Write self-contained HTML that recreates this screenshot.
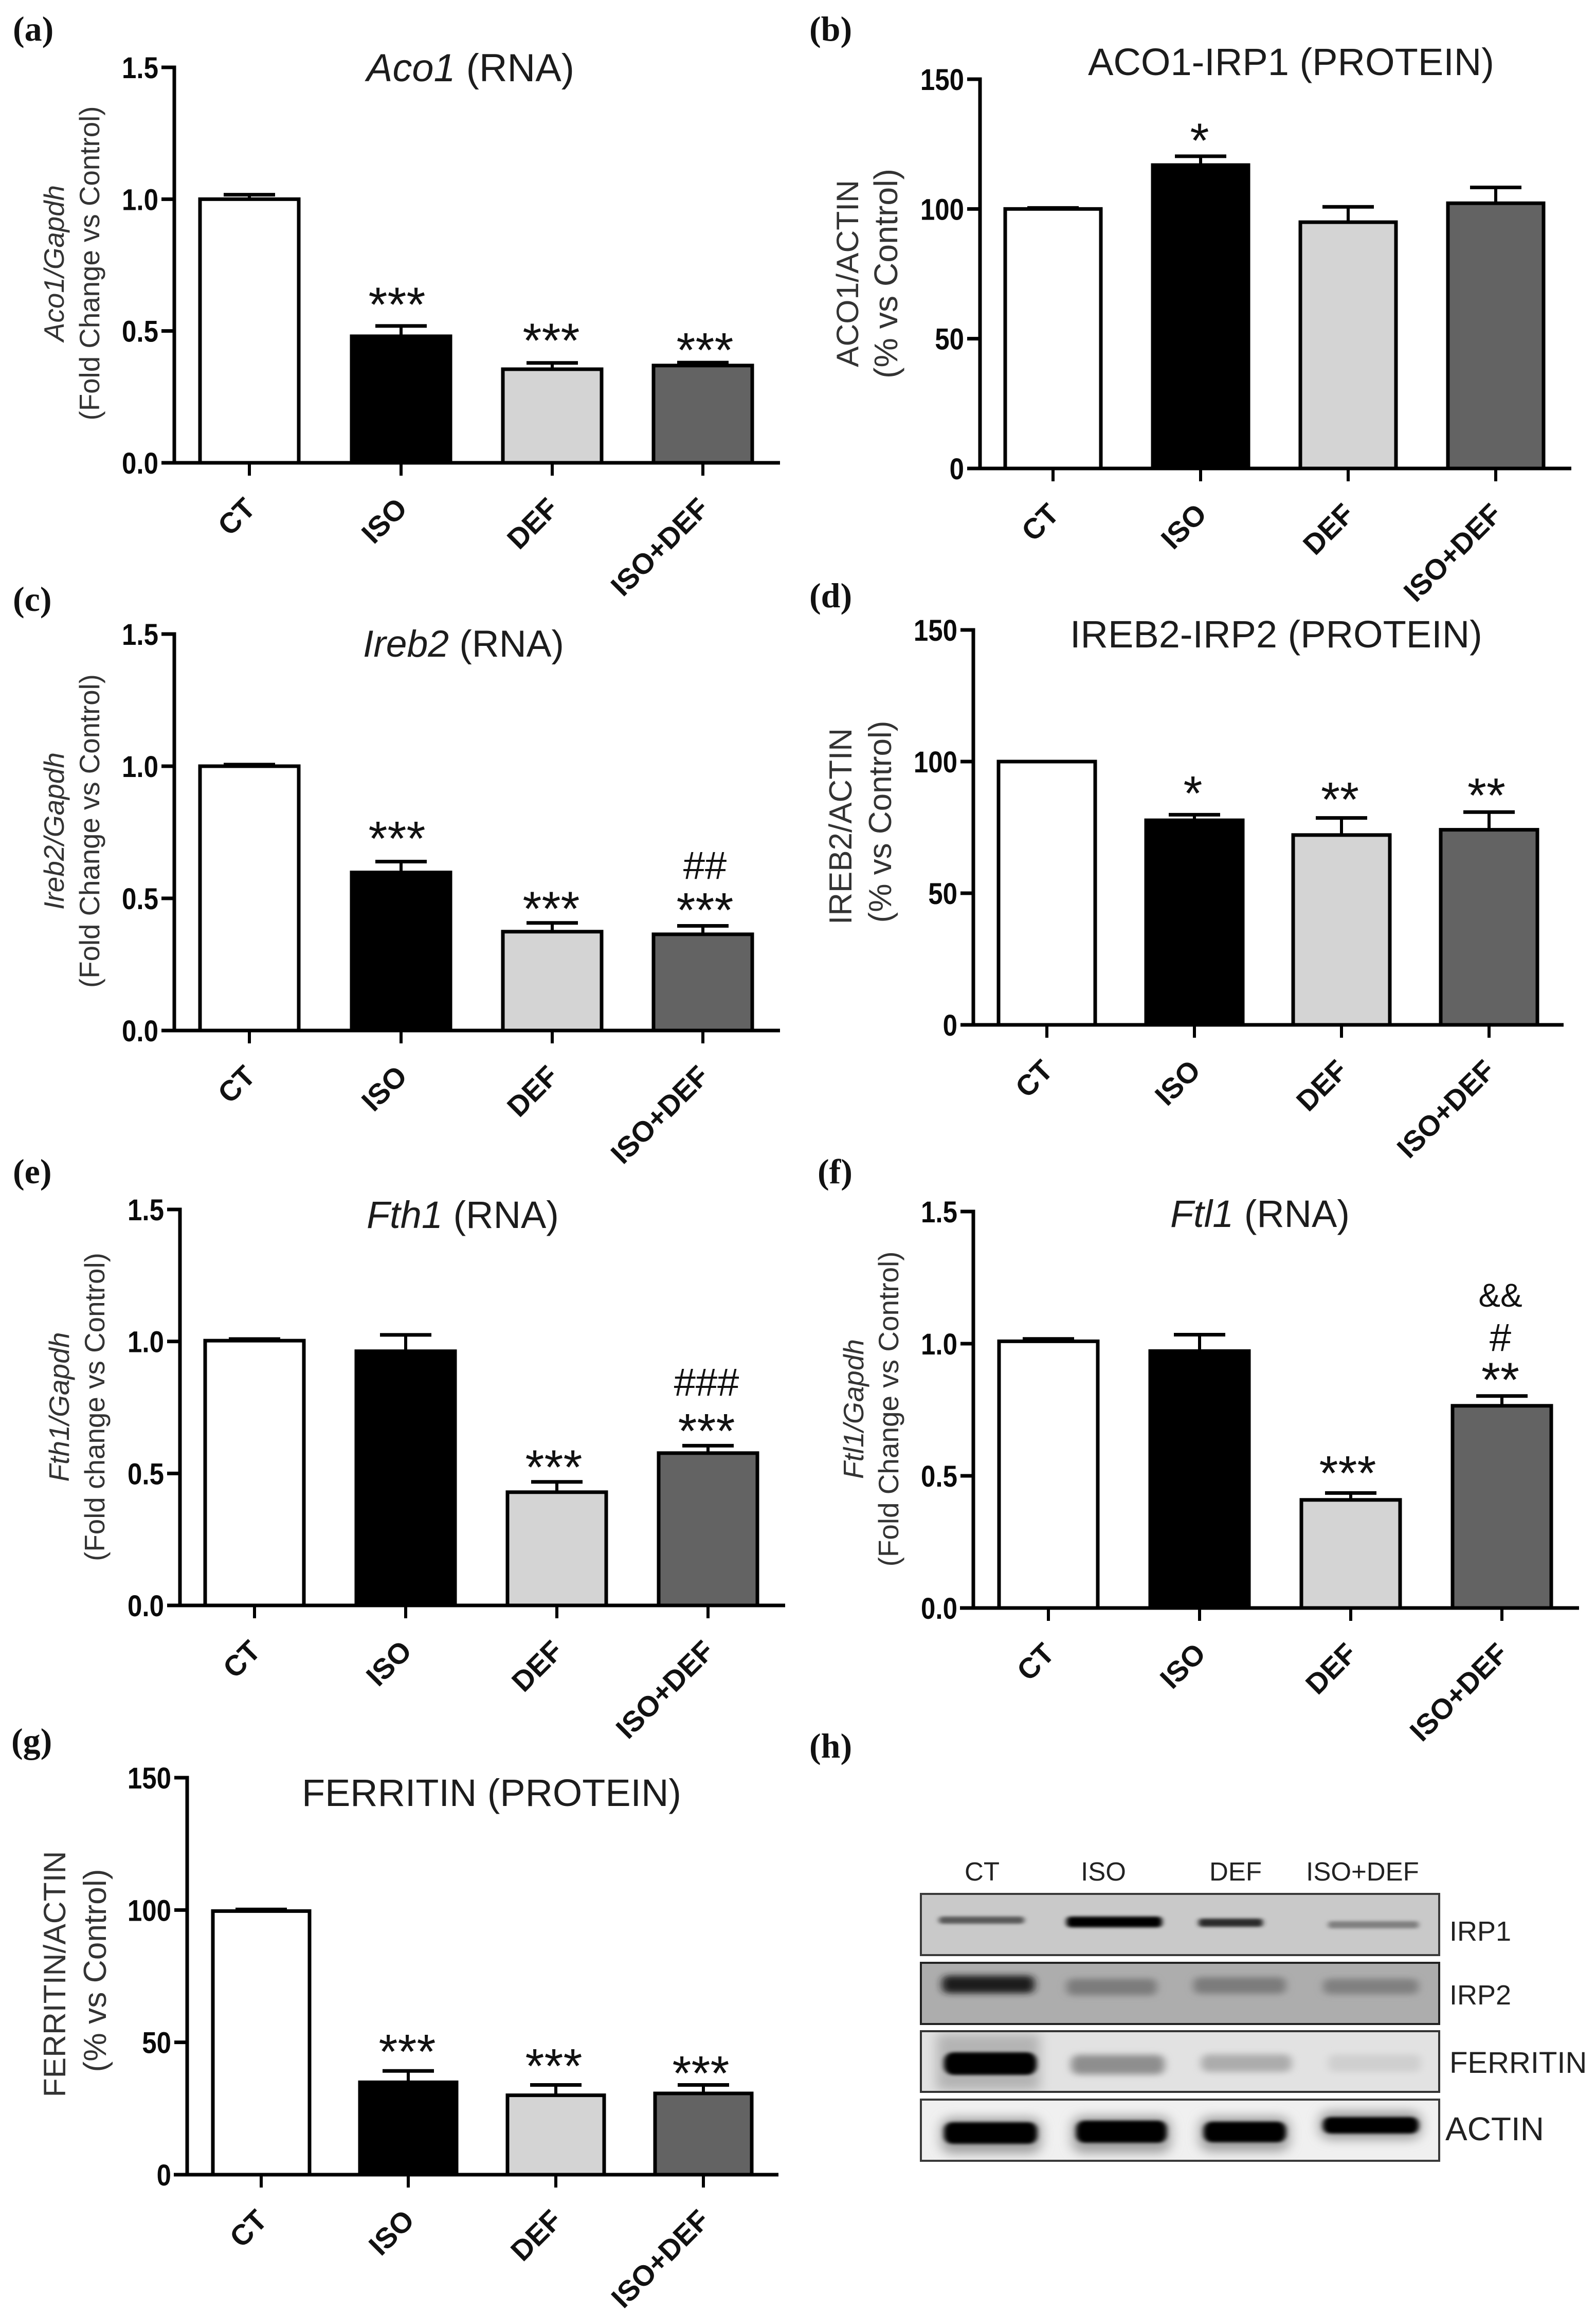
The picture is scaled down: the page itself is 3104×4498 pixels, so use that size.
<!DOCTYPE html>
<html lang="en">
<head>
<meta charset="utf-8">
<title>Iron metabolism bar charts and western blot</title>
<style>
html,body{margin:0;padding:0;background:#fff;}
svg{display:block;position:absolute;left:0;top:0;font-family:"Liberation Sans",Arial,sans-serif;}
text{white-space:pre;}
</style>
</head>
<body>
<svg id="figure" xmlns="http://www.w3.org/2000/svg" width="3104" height="4498" viewBox="0 0 3104 4498">
<defs>
<filter id="blur-s" x="-30%" y="-150%" width="160%" height="400%"><feGaussianBlur stdDeviation="5 3"/></filter>
<filter id="blur-m" x="-30%" y="-150%" width="160%" height="400%"><feGaussianBlur stdDeviation="8 6"/></filter>
<filter id="blur-l" x="-30%" y="-150%" width="160%" height="400%"><feGaussianBlur stdDeviation="12 10"/></filter>
<clipPath id="clip-row-1"><rect x="1791" y="3683" width="1008" height="119"/></clipPath>
<clipPath id="clip-row-2"><rect x="1791" y="3817" width="1008" height="119"/></clipPath>
<clipPath id="clip-row-3"><rect x="1791" y="3950" width="1008" height="118"/></clipPath>
<clipPath id="clip-row-4"><rect x="1791" y="4083" width="1008" height="119"/></clipPath>
</defs>
<rect x="0" y="0" width="3104" height="4498" fill="#ffffff"/>

<g id="western-blot">
  <text x="1574" y="3418" font-family="'Liberation Serif',serif" font-weight="bold" font-size="68" fill="#111">(h)</text>
  <g font-size="51" fill="#222" text-anchor="middle">
    <text x="1910" y="3657">CT</text>
    <text x="2146" y="3657">ISO</text>
    <text x="2403" y="3657">DEF</text>
    <text x="2650" y="3657">ISO+DEF</text>
  </g>

  <g>
    <rect x="1791" y="3683" width="1008" height="119" fill="#c9c9c9"/>
    <g clip-path="url(#clip-row-1)">
      <rect x="1826" y="3727" width="166" height="14" rx="6" fill="#5a5a5a" filter="url(#blur-s)"/>
      <rect x="2074" y="3727" width="186" height="21" rx="8" fill="#000" filter="url(#blur-s)"/>
      <rect x="2331" y="3731" width="125" height="16" rx="6" fill="#2a2a2a" filter="url(#blur-s)"/>
      <rect x="2583" y="3736" width="176" height="14" rx="5" fill="#808080" filter="url(#blur-s)"/>
    </g>
    <rect x="1791" y="3683" width="1008" height="119" fill="none" stroke="#3a3a3a" stroke-width="4"/>
  </g>

  <g>
    <rect x="1791" y="3817" width="1008" height="119" fill="#adadad"/>
    <g clip-path="url(#clip-row-2)">
      <rect x="1832" y="3842" width="180" height="34" rx="12" fill="#1c1c1c" filter="url(#blur-m)"/>
      <rect x="2074" y="3848" width="176" height="32" rx="12" fill="#7c7c7c" filter="url(#blur-m)"/>
      <rect x="2321" y="3845" width="180" height="32" rx="12" fill="#7c7c7c" filter="url(#blur-m)"/>
      <rect x="2573" y="3848" width="186" height="30" rx="12" fill="#808080" filter="url(#blur-m)"/>
    </g>
    <rect x="1791" y="3817" width="1008" height="119" fill="none" stroke="#222" stroke-width="4"/>
  </g>

  <g>
    <rect x="1791" y="3950" width="1008" height="118" fill="#e2e2e2"/>
    <g clip-path="url(#clip-row-3)">
      <rect x="1822" y="3955" width="200" height="110" fill="#b4b4b4" filter="url(#blur-l)"/>
      <rect x="1836" y="3991" width="180" height="44" rx="18" fill="#000" filter="url(#blur-s)"/>
      <rect x="2083" y="3996" width="182" height="38" rx="14" fill="#8e8e8e" filter="url(#blur-m)"/>
      <rect x="2336" y="3995" width="176" height="34" rx="13" fill="#acacac" filter="url(#blur-m)"/>
      <rect x="2583" y="3995" width="180" height="34" rx="12" fill="#cfcfcf" filter="url(#blur-m)"/>
    </g>
    <rect x="1791" y="3950" width="1008" height="118" fill="none" stroke="#333" stroke-width="4"/>
  </g>

  <g>
    <rect x="1791" y="4083" width="1008" height="119" fill="#f0f0f0"/>
    <g clip-path="url(#clip-row-4)">
      <rect x="1830" y="4118" width="195" height="70" rx="20" fill="#a0a0a0" filter="url(#blur-l)"/>
      <rect x="2085" y="4115" width="192" height="72" rx="20" fill="#a0a0a0" filter="url(#blur-l)"/>
      <rect x="2333" y="4116" width="175" height="68" rx="20" fill="#a0a0a0" filter="url(#blur-l)"/>
      <rect x="2566" y="4105" width="198" height="56" rx="20" fill="#a0a0a0" filter="url(#blur-l)"/>
      <rect x="1836" y="4127" width="181" height="42" rx="16" fill="#000" filter="url(#blur-s)"/>
      <rect x="2093" y="4124" width="176" height="43" rx="16" fill="#000" filter="url(#blur-s)"/>
      <rect x="2341" y="4126" width="160" height="40" rx="16" fill="#000" filter="url(#blur-s)"/>
      <rect x="2573" y="4117" width="186" height="32" rx="14" fill="#000" filter="url(#blur-s)"/>
    </g>
    <rect x="1791" y="4083" width="1008" height="119" fill="none" stroke="#3a3a3a" stroke-width="4"/>
  </g>

  <g fill="#222">
    <text x="2819" y="3774" font-size="54">IRP1</text>
    <text x="2819" y="3898" font-size="54">IRP2</text>
    <text x="2819" y="4031" font-size="58">FERRITIN</text>
    <text x="2811" y="4162" font-size="64">ACTIN</text>
  </g>
</g>
</svg>

<script>
// ---- Shared chart data ----
const categories = ['CT', 'ISO', 'DEF', 'ISO+DEF'];
const rnaTicks = ['0.0', '0.5', '1.0', '1.5'];
const proteinTicks = ['0', '50', '100', '150'];

// (a) Aco1 RNA
const aco1RnaMeans = [1.00, 0.48, 0.355, 0.369];
const aco1RnaErrors = [0.017, 0.039, 0.024, 0.011];
const aco1RnaSig = [[], ['***'], ['***'], ['***']];

// (b) ACO1-IRP1 protein
const aco1ProteinMeans = [100, 116.9, 94.9, 102.2];
const aco1ProteinErrors = [0.4, 3.4, 5.9, 6.1];
const aco1ProteinSig = [[], ['*'], [], []];

// (c) Ireb2 RNA
const ireb2RnaMeans = [1.00, 0.598, 0.374, 0.364];
const ireb2RnaErrors = [0.006, 0.041, 0.033, 0.032];
const ireb2RnaSig = [[], ['***'], ['***'], ['***', '##']];

// (d) IREB2-IRP2 protein
const ireb2ProteinMeans = [100, 77.7, 72.1, 74.1];
const ireb2ProteinErrors = [0, 2.1, 6.5, 6.7];
const ireb2ProteinSig = [[], ['*'], ['**'], ['**']];

// (e) Fth1 RNA
const fth1RnaMeans = [1.003, 0.963, 0.429, 0.577];
const fth1RnaErrors = [0.006, 0.062, 0.039, 0.028];
const fth1RnaSig = [[], [], ['***'], ['***', '###']];

// (f) Ftl1 RNA
const ftl1RnaMeans = [1.009, 0.972, 0.409, 0.765];
const ftl1RnaErrors = [0.009, 0.062, 0.026, 0.037];
const ftl1RnaSig = [[], [], ['***'], ['**', '#', '&&']];

// (g) Ferritin protein
const ferritinMeans = [99.6, 34.9, 30.0, 30.7];
const ferritinErrors = [0.6, 4.3, 3.9, 3.2];
const ferritinSig = [[], ['***'], ['***'], ['***']];

// ---- Styling and layout ----
const barFills = ['#ffffff', '#000000', '#d4d4d4', '#636363'];
const panels = [
  {id:'a', means:aco1RnaMeans, errors:aco1RnaErrors, sig:aco1RnaSig, ticks:rnaTicks,
   axisX:339, y0:900, yTop:131, xL:315, xR:1517, centers:[485,780,1074,1367], hw:99,
   label:{x:25,y:79}, title:{it:'Aco1', rm:' (RNA)', x:713, y:158, len:404},
   yLine1:{it:'Aco1/Gapdh', x:124, c:512, len:304}, yLine2:{rm:'(Fold Change vs Control)', x:193, c:512, len:611},
   gaps:[0,54,56,37], dx:[0,-8,-2,4], steps:[]},
  {id:'b', means:aco1ProteinMeans, errors:aco1ProteinErrors, sig:aco1ProteinSig, ticks:proteinTicks,
   axisX:1906, y0:911, yTop:154, xL:1882, xR:3056, centers:[2048,2335,2622,2909], hw:96,
   label:{x:1574,y:79}, title:{rm:'ACO1-IRP1 (PROTEIN)', x:2116, y:146, len:790},
   yLine1:{rm:'ACO1/ACTIN', x:1669, c:532, len:364}, yLine2:{rm:'(% vs Control)', x:1745, c:532, len:408},
   gaps:[0,43,0,0], dx:[0,-2,0,0], steps:[]},
  {id:'c', means:ireb2RnaMeans, errors:ireb2RnaErrors, sig:ireb2RnaSig, ticks:rnaTicks,
   axisX:339, y0:2004, yTop:1233, xL:315, xR:1517, centers:[485,780,1074,1367], hw:99,
   label:{x:25,y:1188}, title:{it:'Ireb2', rm:' (RNA)', x:706, y:1277, len:391},
   yLine1:{it:'Ireb2/Gapdh', x:124, c:1616, len:306}, yLine2:{rm:'(Fold Change vs Control)', x:193, c:1616, len:610},
   gaps:[0,57,40,43], dx:[0,-8,-2,4], steps:[76]},
  {id:'d', means:ireb2ProteinMeans, errors:ireb2ProteinErrors, sig:ireb2ProteinSig, ticks:proteinTicks,
   axisX:1893, y0:1993, yTop:1225, xL:1869, xR:3041, centers:[2036,2323,2609,2896], hw:97,
   label:{x:1574,y:1181}, title:{rm:'IREB2-IRP2 (PROTEIN)', x:2081, y:1259, len:802},
   yLine1:{rm:'IREB2/ACTIN', x:1656, c:1607, len:382}, yLine2:{rm:'(% vs Control)', x:1733, c:1598, len:393},
   gaps:[0,54,48,45], dx:[0,-3,-3,-5], steps:[]},
  {id:'e', means:fth1RnaMeans, errors:fth1RnaErrors, sig:fth1RnaSig, ticks:rnaTicks,
   axisX:350, y0:3122, yTop:2352, xL:325, xR:1527, centers:[495,789,1083,1377], hw:99,
   label:{x:25,y:2301}, title:{it:'Fth1', rm:' (RNA)', x:713, y:2388, len:374},
   yLine1:{it:'Fth1/Gapdh', x:134, c:2736, len:291}, yLine2:{rm:'(Fold change vs Control)', x:203, c:2736, len:600},
   gaps:[0,0,41,41], dx:[0,0,-6,-3], steps:[84]},
  {id:'f', means:ftl1RnaMeans, errors:ftl1RnaErrors, sig:ftl1RnaSig, ticks:rnaTicks,
   axisX:1893, y0:3127, yTop:2356, xL:1867, xR:3071, centers:[2039,2333,2627,2921], hw:99,
   label:{x:1590,y:2301}, title:{it:'Ftl1', rm:' (RNA)', x:2276, y:2386, len:349},
   yLine1:{it:'Ftl1/Gapdh', x:1679, c:2740, len:272}, yLine2:{rm:'(Fold Change vs Control)', x:1747, c:2740, len:613},
   gaps:[0,0,51,44], dx:[0,0,-6,-3], steps:[71,82]},
  {id:'g', means:ferritinMeans, errors:ferritinErrors, sig:ferritinSig, ticks:proteinTicks,
   axisX:364, y0:4229, yTop:3457, xL:338, xR:1514, centers:[508,794,1081,1368], hw:97,
   label:{x:22,y:3408}, title:{rm:'FERRITIN (PROTEIN)', x:587, y:3512, len:738},
   yLine1:{rm:'FERRITIN/ACTIN', x:127, c:3839, len:479}, yLine2:{rm:'(% vs Control)', x:206, c:3832, len:395},
   gaps:[0,50,49,35], dx:[0,-2,-4,-5], steps:[]}
];

// ---- Drawing ----
const SVG_NS = 'http://www.w3.org/2000/svg';
const figure = document.getElementById('figure');

function mk(tag, attrs, parent) {
  const node = document.createElementNS(SVG_NS, tag);
  for (const key in attrs) node.setAttribute(key, attrs[key]);
  parent.appendChild(node);
  return node;
}

function fitText(node, target) {
  const measured = node.getComputedTextLength();
  if (measured > 0) {
    node.setAttribute('font-size', parseFloat(node.getAttribute('font-size')) * target / measured);
  }
}

function squeeze(node, ratio) {
  const measured = node.getComputedTextLength();
  node.setAttribute('textLength', measured * ratio);
  node.setAttribute('lengthAdjust', 'spacingAndGlyphs');
}

function addRuns(node, spec) {
  if (spec.it) {
    const italic = mk('tspan', {'font-style': 'italic'}, node);
    italic.textContent = spec.it;
    
    
  }
  if (spec.rm) {
    const plain = mk('tspan', {}, node);
    plain.textContent = spec.rm;
    
    
  }
}

function symbolFont(label) {
  if (label[0] === '*') return {size: 95, k: 0.47};
  if (label[0] === '#') return {size: 76, k: 0.36};
  return {size: 64, k: 0.36};
}

function drawPanel(p) {
  const yMax = parseFloat(p.ticks[p.ticks.length - 1]);
  const yScale = function (value) { return p.y0 - (value / yMax) * (p.y0 - p.yTop); };

  const group = mk('g', {}, figure);
  
  

  const panelLabel = mk('text', {x: p.label.x, y: p.label.y, 'font-family': "'Liberation Serif',serif", 'font-weight': 'bold', 'font-size': 68, fill: '#111'}, group);
  panelLabel.textContent = '(' + p.id + ')';
  
  

  const title = mk('text', {x: p.title.x, y: p.title.y, 'font-size': 74, fill: '#1c1c1c'}, group);
  addRuns(title, p.title);
  fitText(title, p.title.len);
  
  

  [p.yLine1, p.yLine2].forEach(function (line, index) {
    const t = mk('text', {transform: 'translate(' + line.x + ',' + line.c + ') rotate(-90)', 'text-anchor': 'middle', 'font-size': 54, fill: '#333'}, group);
    addRuns(t, line);
    fitText(t, line.len);
    
    
  });

  p.means.forEach(function (mean, i) {
    const cx = p.centers[i];
    const topY = yScale(mean + p.errors[i]);
    if (p.errors[i] > 0) {
      const stem = mk('line', {x1: cx, x2: cx, y1: yScale(mean), y2: topY, stroke: '#000', 'stroke-width': 6}, group);
      
      
      const cap = mk('line', {x1: cx - 50, x2: cx + 50, y1: topY, y2: topY, stroke: '#000', 'stroke-width': 7}, group);
      
      
    }
    const bar = mk('rect', {x: cx - p.hw + 3, y: yScale(mean), width: 2 * p.hw - 6, height: p.y0 - yScale(mean), fill: barFills[i], stroke: '#000', 'stroke-width': 7}, group);
    
    

    let centerY = topY - p.gaps[i];
    p.sig[i].forEach(function (label, level) {
      if (level > 0) centerY -= p.steps[level - 1];
      const font = symbolFont(label);
      const mark = mk('text', {x: cx + p.dx[i], y: centerY + font.k * font.size, 'text-anchor': 'middle', 'font-size': font.size, fill: '#111'}, group);
      mark.textContent = label;
      
      
    });

    const tick = mk('line', {x1: cx, x2: cx, y1: p.y0, y2: p.y0 + 25, stroke: '#000', 'stroke-width': 6}, group);
    
    

    const catLabel = mk('text', {transform: 'translate(' + (cx + 15) + ',' + (p.y0 + 92) + ') rotate(-45)', 'text-anchor': 'end', 'font-size': 56, 'font-weight': 'bold', fill: '#111'}, group);
    catLabel.textContent = categories[i];
    
    
  });

  p.ticks.forEach(function (label) {
    const ty = yScale(parseFloat(label));
    const tick = mk('line', {x1: p.axisX - 25, x2: p.axisX, y1: ty, y2: ty, stroke: '#000', 'stroke-width': 7}, group);
    
    
    const tickLabel = mk('text', {x: p.axisX - 31, y: ty + 21, 'text-anchor': 'end', 'font-size': 58, 'font-weight': 'bold', fill: '#0a0a0a'}, group);
    tickLabel.textContent = label;
    squeeze(tickLabel, 0.88);
    
    
  });

  const yAxis = mk('line', {x1: p.axisX, x2: p.axisX, y1: p.yTop - 3.5, y2: p.y0 + 3.5, stroke: '#000', 'stroke-width': 7}, group);
  
  
  const xAxis = mk('line', {x1: p.xL, x2: p.xR, y1: p.y0, y2: p.y0, stroke: '#000', 'stroke-width': 7}, group);
  
  
}

panels.forEach(drawPanel);
</script>
</body>
</html>
